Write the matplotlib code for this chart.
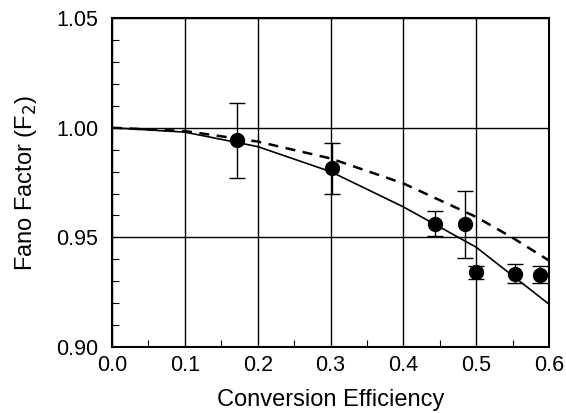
import matplotlib.pyplot as plt
import numpy as np

# measured points
eff = [0.172, 0.302, 0.444, 0.484, 0.500, 0.553, 0.588]
fano = [0.9942, 0.9815, 0.9563, 0.9563, 0.9340, 0.9333, 0.9328]
err_lo = [0.9772, 0.9700, 0.9506, 0.9407, 0.9310, 0.9290, 0.9290]
err_hi = [1.0113, 0.9930, 0.9619, 0.9712, 0.9371, 0.9379, 0.9368]

# theory curves
curve_x = [0.0, 0.1, 0.2, 0.3, 0.4, 0.5, 0.55, 0.6]
solid_y = [1.0, 0.998, 0.9914, 0.980, 0.9639, 0.9455, 0.9325, 0.9195]
dashed_y = [1.0, 0.9985, 0.9937, 0.9860, 0.9746, 0.9593, 0.9498, 0.9394]

plt.rcParams['font.family'] = ['Liberation Sans', 'DejaVu Sans']

def main():
    fig = plt.figure(figsize=(5.66, 4.13), dpi=100)
    ax = fig.add_axes([0.198, 0.160, 0.772, 0.796])

    ax.plot(curve_x, solid_y, 'k-', lw=1.2)
    ax.plot(curve_x, dashed_y, 'k--', lw=1.8, dashes=(4, 3))

    fano_a = np.array(fano)
    yerr = [fano_a - np.array(err_lo), np.array(err_hi) - fano_a]
    ax.errorbar(eff, fano, yerr=yerr, fmt='o', color='k', ms=10,
                ecolor='k', elinewidth=1.0, capsize=6, capthick=1.0)

    ax.set_xlim(0, 0.6)
    ax.set_ylim(0.90, 1.05)
    ax.set_xticks(np.arange(0, 0.61, 0.1))
    ax.set_xticks(np.arange(0.05, 0.6, 0.1), minor=True)
    ax.set_yticks([0.90, 0.95, 1.00, 1.05])
    ax.set_yticks(np.arange(0.91, 1.05, 0.01), minor=True)
    ax.set_xticklabels(['0.0', '0.1', '0.2', '0.3', '0.4', '0.5', '0.6'])
    ax.set_yticklabels(['0.90', '0.95', '1.00', '1.05'])
    ax.grid(True, which='major', color='k', lw=1.0)
    ax.tick_params(which='both', direction='in', labelsize=15.5, length=0)
    ax.tick_params(which='minor', length=5, width=0.8)
    ax.tick_params(axis='x', pad=6)
    ax.tick_params(axis='y', pad=10)
    for s in ax.spines.values():
        s.set_linewidth(1.5)

    ax.set_xlabel('Conversion Efficiency', fontsize=17, labelpad=9)
    ax.set_ylabel('Fano Factor (F$_2$)', fontsize=17, labelpad=12)

    fig.savefig('out.png', dpi=100)

if __name__ == '__main__':
    main()
